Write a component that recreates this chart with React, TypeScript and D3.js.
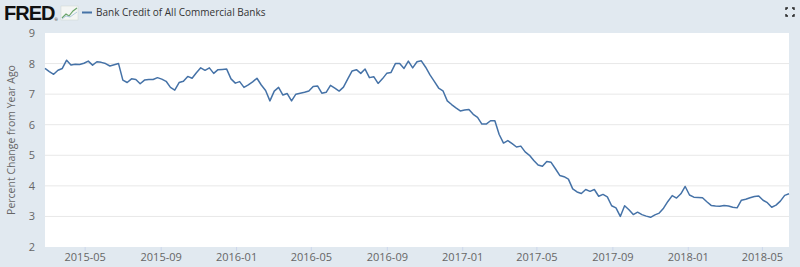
import React from "react";
import * as d3 from "d3";

const seriesName = "Bank Credit of All Commercial Banks";
const yAxisTitle = "Percent Change from Year Ago";
const startDate = "2015-02-25";
const values = [
  7.84, 7.74, 7.65, 7.78, 7.84, 8.11, 7.95, 7.98, 7.97, 8.01,
  8.08, 7.95, 8.06, 8.04, 8.0, 7.92, 7.96, 8.0, 7.46, 7.38,
  7.5, 7.48, 7.34, 7.46, 7.48, 7.48, 7.54, 7.49, 7.42, 7.22,
  7.13, 7.38, 7.42, 7.58, 7.52, 7.7, 7.86, 7.78, 7.86, 7.68,
  7.8, 7.81, 7.82, 7.5, 7.36, 7.41, 7.22, 7.3, 7.4, 7.52,
  7.3, 7.12, 6.78, 7.1, 7.22, 6.97, 7.02, 6.78, 7.0, 7.03,
  7.06, 7.1, 7.25, 7.27, 7.03, 7.06, 7.29, 7.2, 7.1, 7.23,
  7.5, 7.76, 7.8, 7.68, 7.82, 7.54, 7.57, 7.35, 7.5, 7.68,
  7.71, 8.0, 8.0, 7.84, 8.08, 7.86, 8.06, 8.09, 7.88, 7.63,
  7.42, 7.2, 7.11, 6.78, 6.66, 6.55, 6.45, 6.48, 6.5, 6.34,
  6.24, 6.02, 6.02, 6.13, 6.13, 5.68, 5.4, 5.48, 5.38, 5.27,
  5.3, 5.11, 5.0, 4.83, 4.68, 4.64, 4.8, 4.77, 4.56, 4.34,
  4.3, 4.22, 3.9, 3.8, 3.75, 3.88, 3.82, 3.88, 3.66, 3.72,
  3.64, 3.35, 3.28, 3.0, 3.35, 3.22, 3.06, 3.14, 3.06, 3.01,
  2.97, 3.05, 3.11, 3.27, 3.49, 3.68, 3.6, 3.74, 3.98, 3.7,
  3.63, 3.62, 3.61, 3.48, 3.36, 3.34, 3.33, 3.36, 3.34, 3.3,
  3.28, 3.53, 3.56, 3.61, 3.65, 3.67, 3.53, 3.45, 3.3, 3.37,
  3.5, 3.69, 3.74,
];
const yTicks = [2, 3, 4, 5, 6, 7, 8, 9];
const xTickLabels = ["2015-05", "2015-09", "2016-01", "2016-05", "2016-09", "2017-01", "2017-05", "2017-09", "2018-01", "2018-05"];

const W = 800, H = 267;
const M = { left: 45, right: 789, top: 33, bottom: 247 };
const FONT = "'Open Sans', 'DejaVu Sans', sans-serif";

export default function App() {
  const parse = d3.timeParse("%Y-%m-%d");
  const parseM = d3.timeParse("%Y-%m");
  const start = parse(startDate) as Date;
  const data = values.map((v, i) => ({ date: d3.timeDay.offset(start, i * 7), value: v }));
  const x = d3
    .scaleTime()
    .domain([data[0].date, data[data.length - 1].date])
    .range([M.left, M.right]);
  const y = d3.scaleLinear().domain([2, 9]).range([M.bottom, M.top]);
  const line = d3
    .line<{ date: Date; value: number }>()
    .x((d) => x(d.date))
    .y((d) => y(d.value));
  const xTicks = xTickLabels.map((s) => ({ label: s, date: parseM(s) as Date }));

  return (
    <svg
      width={W}
      height={H}
      style={{ position: "fixed", left: 0, top: 0, display: "block" }}
      fontFamily={FONT}
    >
      <rect x={0} y={0} width={W} height={H} fill="#e1e9f0" />
      {/* header */}
      <text x={4} y={20} fontSize={20} fontWeight={800} fill="#111" fontFamily="'Liberation Sans', Arial, sans-serif" letterSpacing={-1}>
        FRED
      </text>
      <text x={54.5} y={21} fontSize={4} fill="#111">®</text>
      <g transform="translate(61,6)">
        <rect x={0} y={0} width={17} height={14} fill="#f4f6f4" stroke="#cfd8d0" strokeWidth={0.5} />
        <path d="M1,12 L5,8 L8,10 L12,5 L16,2" fill="none" stroke="#6aa56a" strokeWidth={1.2} />
        <path d="M1,13 L5,10 L9,11 L16,6" fill="none" stroke="#9fbfd8" strokeWidth={0.8} />
      </g>
      <line x1={82} x2={92} y1={12.5} y2={12.5} stroke="#4572a7" strokeWidth={2} />
      <text x={96} y={16} fontSize={10} fill="#333">
        {seriesName}
      </text>
      {/* fullscreen icon */}
      <g stroke="#222" strokeWidth={1.4} fill="none">
        <path d="M786,10 V8 H788" />
        <path d="M792,8 H794 V10" />
        <path d="M786,14 V16 H788" />
        <path d="M792,16 H794 V14" />
      </g>
      {/* plot area */}
      <rect x={M.left} y={M.top} width={M.right - M.left} height={M.bottom - M.top} fill="#ffffff" />
      {yTicks.map((t) => (
        <g key={t}>
          {t !== 2 && t !== 9 && (
            <line x1={M.left} x2={M.right} y1={y(t)} y2={y(t)} stroke="#e8e8e8" strokeWidth={1} />
          )}
          <text x={35} y={y(t) + 4} fontSize={11} fill="#666" textAnchor="end">
            {t}
          </text>
        </g>
      ))}
      {xTicks.map((t) => (
        <g key={t.label}>
          <line x1={x(t.date)} x2={x(t.date)} y1={M.bottom} y2={M.bottom + 4} stroke="#ccd6eb" />
          <text x={x(t.date)} y={261} fontSize={11} fill="#666" textAnchor="middle">
            {t.label}
          </text>
        </g>
      ))}
      <text
        transform={`translate(15,${(M.top + M.bottom) / 2}) rotate(-90)`}
        fontSize={10.5}
        fill="#666"
        textAnchor="middle"
      >
        {yAxisTitle}
      </text>
      <path d={line(data) || ""} fill="none" stroke="#4572a7" strokeWidth={1.5} strokeLinejoin="round" />
    </svg>
  );
}
